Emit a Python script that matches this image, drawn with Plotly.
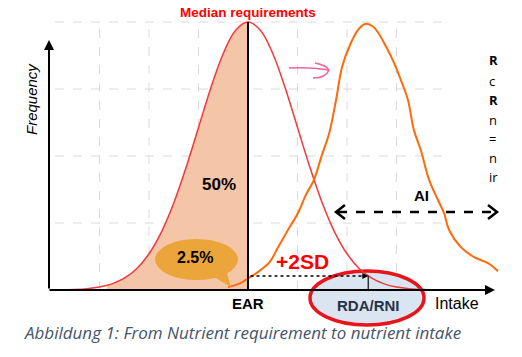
import plotly.graph_objects as go

# ---------------- data ----------------
# requirement distribution (red curve), x in grid units, y in grid units
req_x = [0.1, 0.5, 0.75, 1.0, 1.25, 1.5, 1.75, 2.0, 2.25, 2.5, 2.75, 3.0, 3.25, 3.5, 3.75, 4.0,
         4.25, 4.5, 4.75, 5.0, 5.25, 5.5, 5.75, 6.0, 6.25, 6.5, 6.75, 7.0, 7.25, 7.5, 7.9]
req_y = [0.002, 0.009, 0.020, 0.044, 0.091, 0.176, 0.318, 0.541, 0.865, 1.299, 1.831, 2.426, 3.019, 3.530, 3.877, 4.0,
         3.877, 3.530, 3.019, 2.426, 1.831, 1.299, 0.865, 0.541, 0.318, 0.176, 0.091, 0.044, 0.020, 0.009, 0.002]
# shaded part of the requirement curve (below EAR)
fill_x = [1.15, 1.25, 1.5, 1.75, 2.0, 2.25, 2.5, 2.75, 3.0, 3.25, 3.5, 3.75, 4.0]
fill_y = [0.069, 0.091, 0.176, 0.318, 0.541, 0.865, 1.299, 1.831, 2.426, 3.019, 3.530, 3.877, 4.0]
# intake distribution (orange curve)
intake_x = [3.60, 3.84, 4.04, 4.26, 4.44, 4.61, 4.81, 5.01, 5.17, 5.33, 5.49, 5.64, 5.78, 5.90, 6.08, 6.22,
            6.36, 6.51, 6.63, 6.79, 6.95, 7.09, 7.23, 7.35, 7.49, 7.66, 7.84, 7.96, 8.06, 8.30, 8.57, 8.85, 9.05]
intake_y = [0.045, 0.10, 0.19, 0.30, 0.42, 0.64, 0.90, 1.15, 1.42, 1.64, 2.01, 2.34, 2.84, 3.33, 3.69, 3.88,
            3.97, 3.94, 3.84, 3.63, 3.39, 3.13, 2.84, 2.39, 2.09, 1.64, 1.34, 1.15, 0.90, 0.64, 0.49, 0.40, 0.28]
EAR_X = 4.0
RDA_X = 6.43
grid_x = [1, 2, 3, 4, 5, 6, 7]
grid_y = [1, 2, 3, 4]
grid_x_end = 7.92
grid_x_start = 0.1

W, H = 522, 357
# data units per window pixel: x = (px - 50) / 49.5, y = (290 - py) / 67
XR = [(0 - 50) / 49.5, (W - 50) / 49.5]
YR = [(290 - H) / 67, (290 - 0) / 67]


def PX(px):
    return XR[0] + px / W * (XR[1] - XR[0])


def PY(py):
    return YR[1] - py / H * (YR[1] - YR[0])


fig = go.Figure()

shapes = []
for gx in grid_x:
    shapes.append(dict(type="line", x0=gx, x1=gx, y0=0, y1=grid_y[-1], layer="below",
                       line=dict(color="#dadada", width=1, dash="dash")))
for gy in grid_y:
    shapes.append(dict(type="line", x0=grid_x_start, x1=grid_x_end, y0=gy, y1=gy, layer="below",
                       line=dict(color="#dadada", width=1, dash="dash")))

# RDA ellipse
shapes.append(dict(type="circle", x0=PX(310), x1=PX(424), y0=PY(271), y1=PY(325), layer="below",
                   fillcolor="#dbe5f1", line=dict(color="#e8141c", width=3.5)))

# 2.5% callout
shapes.append(dict(type="circle", x0=PX(155), x1=PX(238), y0=PY(239), y1=PY(280), layer="above",
                   fillcolor="#eba53b", line=dict(width=0)))
shapes.append(dict(type="path", layer="above", fillcolor="#eba53b", line=dict(width=0),
                   path=f"M {PX(212)},{PY(276)} L {PX(231)},{PY(287)} L {PX(226)},{PY(270)} Z"))

# pink hand-drawn arrow
shapes.append(dict(type="path", layer="above", line=dict(color="#f2649c", width=1.5),
                   path=f"M {PX(289)},{PY(68)} Q {PX(310)},{PY(67)} {PX(329)},{PY(70)}"))
shapes.append(dict(type="path", layer="above", line=dict(color="#f2649c", width=1.5),
                   path=f"M {PX(315)},{PY(63)} Q {PX(326)},{PY(65)} {PX(329)},{PY(70)} Q {PX(326)},{PY(78)} {PX(313)},{PY(78)}"))

# AI chevrons
shapes.append(dict(type="path", layer="above", line=dict(color="black", width=2.5),
                   path=f"M {PX(345)},{PY(205)} L {PX(336)},{PY(212)} L {PX(345)},{PY(219)}"))
shapes.append(dict(type="path", layer="above", line=dict(color="black", width=2.5),
                   path=f"M {PX(488)},{PY(205)} L {PX(497)},{PY(212)} L {PX(488)},{PY(219)}"))

fig.add_trace(go.Scatter(x=fill_x, y=fill_y, mode="lines", fill="tozeroy", fillcolor="#f4c5a6",
                         line=dict(width=0, shape="spline"), hoverinfo="skip"))
fig.add_trace(go.Scatter(x=req_x, y=req_y, mode="lines",
                         line=dict(color="#f0393b", width=1.5, shape="spline")))
fig.add_trace(go.Scatter(x=intake_x, y=intake_y, mode="lines",
                         line=dict(color="#ff6a0a", width=2, shape="spline")))
fig.add_trace(go.Scatter(x=[EAR_X, EAR_X], y=[0, max(req_y)], mode="lines",
                         line=dict(color="black", width=2)))
fig.add_trace(go.Scatter(x=[EAR_X + 0.05, RDA_X - 0.1], y=[PY(276), PY(276)], mode="lines",
                         line=dict(color="black", width=1.5, dash="dot")))
fig.add_trace(go.Scatter(x=[RDA_X, RDA_X], y=[0, PY(276)], mode="lines",
                         line=dict(color="#333333", width=1.5)))
fig.add_trace(go.Scatter(x=[PX(338), PX(495)], y=[PY(212), PY(212)], mode="lines",
                         line=dict(color="black", width=2.5, dash="dash")))

ann = []
ann.append(dict(x=PX(49), y=PY(40), ax=PX(49), ay=0, xref="x", yref="y", axref="x", ayref="y",
                showarrow=True, arrowhead=2, arrowsize=1, arrowwidth=2, arrowcolor="black", text=""))
ann.append(dict(x=PX(495), y=0, ax=PX(48), ay=0, xref="x", yref="y", axref="x", ayref="y",
                showarrow=True, arrowhead=2, arrowsize=1, arrowwidth=2, arrowcolor="black", text=""))
ann.append(dict(x=RDA_X, y=PY(276), ax=RDA_X - 0.15, ay=PY(276), xref="x", yref="y", axref="x", ayref="y",
                showarrow=True, arrowhead=2, arrowsize=1, arrowwidth=1.2, arrowcolor="black", text=""))

AR = "Liberation Sans, Arial, sans-serif"


def txt(px, py, s, size, color="black", bold=False, italic=False, xanchor="center", angle=0, family=AR):
    if bold:
        s = f"<b>{s}</b>"
    if italic:
        s = f"<i>{s}</i>"
    ann.append(dict(x=PX(px), y=PY(py), xref="x", yref="y", text=s, showarrow=False,
                    xanchor=xanchor, yanchor="middle", textangle=angle,
                    font=dict(family=family, size=size, color=color)))


txt(248, 12, "Median requirements", 13.5, color="#ff0000", bold=True)
txt(31, 99, "Frequency", 15, italic=True, angle=-90)
txt(219, 184, "50%", 17, bold=True)
txt(195, 257, "2.5%", 16, bold=True)
txt(302, 261, "+2SD", 21, color="#ff0000", bold=True)
txt(421, 195, "AI", 15, bold=True)
txt(248, 303, "EAR", 15, bold=True)
txt(457, 303, "Intake", 16)
txt(368, 305, "RDA/RNI", 15, color="#24324a", bold=True)
txt(22, 332, "Abbildung 1: From Nutrient requirement to nutrient intake", 17, color="#44546a",
    italic=True, xanchor="left", family="Open Sans, sans-serif")

for py, s, b in [(60, "R", True), (81, "c", False), (100, "R", True), (120, "n", False),
                 (139, "=", False), (158, "n", False), (177, "ir", False)]:
    txt(487, py, s, 13, bold=b, xanchor="left", family="Open Sans, sans-serif")

fig.update_layout(
    width=W, height=H, margin=dict(l=0, r=0, t=0, b=0),
    paper_bgcolor="white", plot_bgcolor="white", showlegend=False,
    xaxis=dict(range=XR, visible=False, fixedrange=True),
    yaxis=dict(range=YR, visible=False, fixedrange=True),
    shapes=shapes, annotations=ann,
)

fig.write_html("out.html", config={"displayModeBar": False},
               post_script="document.body.style.margin='0';document.body.style.padding='0';"
                           "document.body.style.overflow='hidden';")
